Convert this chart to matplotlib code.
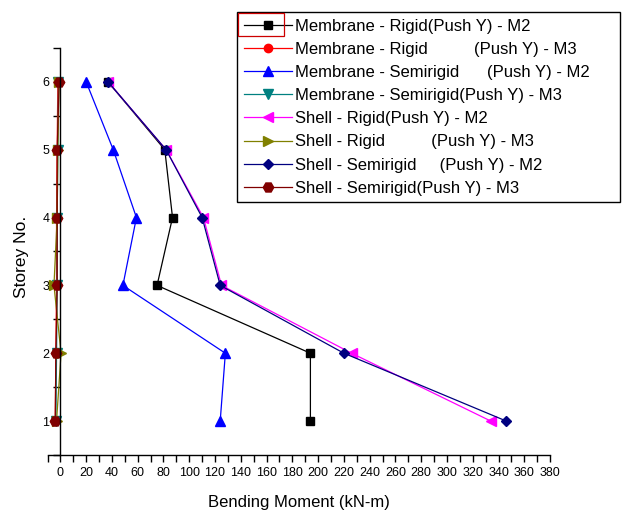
import matplotlib
matplotlib.use('Agg')
import matplotlib.pyplot as plt
from matplotlib.ticker import MultipleLocator
from matplotlib.patches import Rectangle

plt.rcParams['font.family'] = ['Liberation Sans', 'DejaVu Sans']

storeys = [1, 2, 3, 4, 5, 6]

mem_rigid_m2 = [194, 194, 75, 87, 81, 37]
mem_rigid_m3 = [-4, -3.5, -3, -3, -2.5, -2]
mem_semi_m2 = [124, 128, 48.5, 59, 41, 20]
mem_semi_m3 = [-3.5, -3, -2.5, -2.5, -2, -1.5]
shell_rigid_m2 = [334, 226, 125, 111, 82, 37]
shell_rigid_m3 = [-3, 0.5, -5, -2.5, -2, -1]
shell_semi_m2 = [346, 220, 124, 110, 82, 37]
shell_semi_m3 = [-4, -3.5, -2.5, -2.5, -2.5, -1]

labels = ['Membrane - Rigid(Push Y) - M2',
          'Membrane - Rigid          (Push Y) - M3',
          'Membrane - Semirigid      (Push Y) - M2',
          'Membrane - Semirigid(Push Y) - M3',
          'Shell - Rigid(Push Y) - M2',
          'Shell - Rigid          (Push Y) - M3',
          'Shell - Semirigid     (Push Y) - M2',
          'Shell - Semirigid(Push Y) - M3']

fig = plt.figure(figsize=(6.22, 5.13), dpi=100)
ax = fig.add_axes([0.0764, 0.1131, 0.808, 0.7934])

series = [
    (mem_rigid_m2, '#000000', 's', 6),
    (mem_rigid_m3, '#FF0000', 'o', 6),
    (mem_semi_m2, '#0000FF', '^', 7),
    (mem_semi_m3, '#008080', 'v', 7),
    (shell_rigid_m2, '#FF00FF', '<', 7),
    (shell_rigid_m3, '#808000', '>', 7),
    (shell_semi_m2, '#000080', 'D', 5.5),
    (shell_semi_m3, '#800000', 'H', 7.5),
]
for (vals, c, m, ms), lab in zip(series, labels):
    ax.plot(vals, storeys, color=c, marker=m, markersize=ms, lw=0.9,
            markeredgecolor=c, markerfacecolor=c, label=lab)

ax.set_xlim(-10, 380)
ax.set_ylim(0.5, 6.5)

ax.spines['top'].set_visible(False)
ax.spines['right'].set_visible(False)
ax.spines['left'].set_position(('data', 0))
for s in ['left', 'bottom']:
    ax.spines[s].set_linewidth(1.0)

ax.xaxis.set_major_locator(MultipleLocator(20))
ax.xaxis.set_minor_locator(MultipleLocator(10))
ax.yaxis.set_major_locator(MultipleLocator(1))
ax.yaxis.set_minor_locator(MultipleLocator(0.5))
ax.tick_params(which='both', direction='out', length=5, width=1.0)
ax.tick_params(axis='x', labelsize=9, pad=4)
ax.tick_params(axis='y', labelsize=9, pad=3)

ax.set_xlabel('Bending Moment (kN-m)', fontsize=12)
ax.set_ylabel('Storey No.', fontsize=12.5)
ax.xaxis.set_label_coords(0.5, -0.098)
ax.yaxis.set_label_coords(-0.036, 0.487)

x0, x1 = 237 / 622, 620 / 622
y0, y1 = 1 - 198 / 513, 1 - 12 / 513
leg = ax.legend(loc='upper left', bbox_to_anchor=(x0, y0, x1 - x0, y1 - y0),
                bbox_transform=fig.transFigure, mode='expand', fontsize=12,
                frameon=True, fancybox=False, framealpha=1,
                edgecolor='black', borderpad=0.4, labelspacing=0.49,
                handlelength=2.9, handletextpad=0.2, borderaxespad=0)
leg.get_frame().set_linewidth(1.0)

fig.patches.append(Rectangle((238 / 622, 1 - 36 / 513), 46 / 622, 23 / 513,
                             transform=fig.transFigure, fill=False,
                             edgecolor='#CC0000', lw=0.9))

fig.savefig('out.png', dpi=100)
